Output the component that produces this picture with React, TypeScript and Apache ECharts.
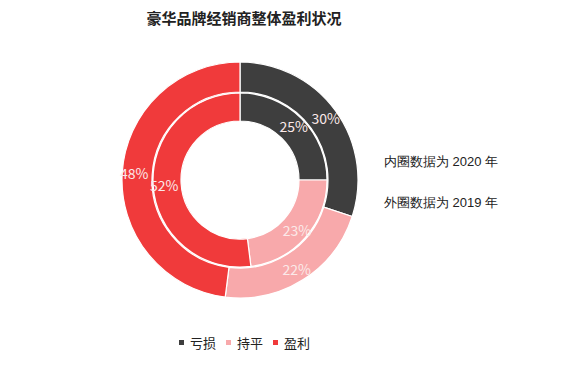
import React, { useEffect, useRef } from "react";
import * as echarts from "echarts";

const categories = ["亏损", "持平", "盈利"];
const colors = ["#3e3e3e", "#f8a9ab", "#f03a3b"];
const values2020 = [25, 23, 52];
const values2019 = [30, 22, 48];
const titleText = "豪华品牌经销商整体盈利状况";
const noteInner = "内圈数据为 2020 年";
const noteOuter = "外圈数据为 2019 年";

const FONT = "'Noto Sans CJK SC', 'Noto Sans', sans-serif";

export default function App() {
  const ref = useRef<HTMLDivElement>(null);
  useEffect(() => {
    if (!ref.current) return;
    const chart = echarts.init(ref.current, undefined, { renderer: "svg" });
    const mk = (vals: number[]) =>
      categories.map((name, i) => ({ name, value: vals[i], itemStyle: { color: colors[i] } }));
    const labelStyle = {
      show: true,
      position: "inside" as const,
      formatter: "{c}%",
      color: "#fbe9e9",
      fontSize: 14,
      fontFamily: FONT,
    };
    chart.setOption({
      animation: false,
      backgroundColor: "#ffffff",
      textStyle: { fontFamily: FONT },
      title: {
        text: titleText,
        left: 239,
        top: 5,
        textAlign: "center",
        textStyle: { fontSize: 15, fontWeight: "bold", color: "#222", fontFamily: FONT },
      },
      legend: {
        data: categories,
        left: 172,
        top: 331,
        icon: "rect",
        itemWidth: 7,
        itemHeight: 7,
        itemGap: 8,
        textStyle: { fontSize: 13, color: "#222", fontFamily: FONT },
      },
      graphic: [
        { type: "text", left: 384, top: 155, style: { text: noteInner, fontSize: 13, fill: "#222", font: `13px ${FONT}` } },
        { type: "text", left: 384, top: 196, style: { text: noteOuter, fontSize: 13, fill: "#222", font: `13px ${FONT}` } },
      ],
      series: [
        {
          name: "2020",
          type: "pie",
          center: [240, 180],
          radius: [59, 87],
          startAngle: 90,
          clockwise: true,
          label: labelStyle,
          labelLine: { show: false },
          itemStyle: { borderColor: "#fff", borderWidth: 1.2 },
          emphasis: { disabled: true },
          data: mk(values2020),
        },
        {
          name: "2019",
          type: "pie",
          center: [240, 180],
          radius: [88, 118],
          startAngle: 90,
          clockwise: true,
          label: labelStyle,
          labelLine: { show: false },
          itemStyle: { borderColor: "#fff", borderWidth: 1.2 },
          emphasis: { disabled: true },
          data: mk(values2019),
        },
      ],
    });
    return () => chart.dispose();
  }, []);
  return (
    <div
      ref={ref}
      style={{ position: "fixed", left: 0, top: 0, width: 569, height: 372 }}
    />
  );
}
